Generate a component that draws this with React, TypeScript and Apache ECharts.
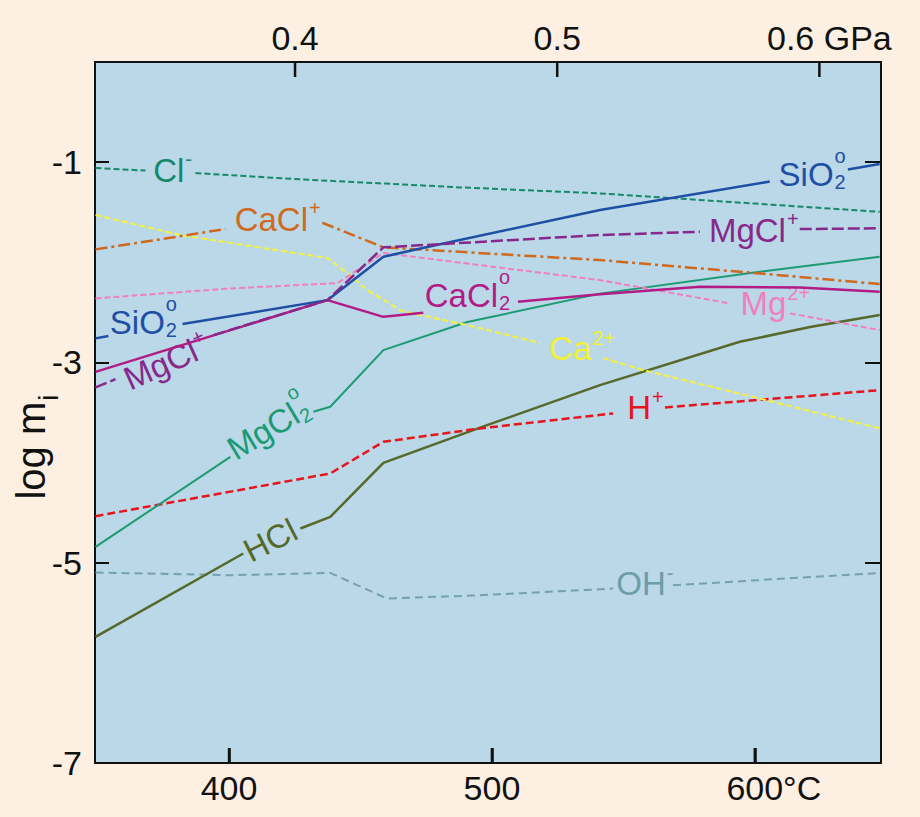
import React, { useEffect, useRef } from 'react';
import * as echarts from 'echarts';

const FONT = '"Liberation Sans", Arial, Helvetica, sans-serif';

type Pt = [number, number | null];

// axis ticks
const tempTicks = [400, 500, 600];
const pressureTicks = [0.4, 0.5, 0.6];
const logTicks = [-7, -5, -3, -1];
const rightTicks = [-5, -3, -1];

// series values: [T (°C), log m]; null = gap left for the label
const clMinus: Pt[] = [[349.2, -1.059], [368.2, -1.084], [378, null], [387.2, -1.109], [427.1, -1.172], [487.9, -1.252], [541.1, -1.312], [600, -1.414], [647.5, -1.496]];
const caClPlus: Pt[] = [[349.2, -1.871], [374, -1.77], [398.6, -1.668], [417, null], [435.5, -1.605], [458.7, -1.851], [541.1, -1.978], [601.9, -2.111], [647.5, -2.218]];
const sio2: Pt[] = [[349.2, -2.76], [354.1, -2.737], [368, null], [382.3, -2.617], [437.4, -2.378], [458.7, -1.945], [475.4, -1.848], [541.1, -1.478], [605.7, -1.194], [620, null], [635.4, -1.074], [647.5, -1.019]];
const mgClPlus: Pt[] = [[349.2, -3.25], [356.8, -3.167], [375, null], [394.0, -2.727], [437.4, -2.378], [458.7, -1.851], [541.1, -1.728], [579.1, -1.695], [598, null], [617.1, -1.668], [647.5, -1.661]];
const caCl2: Pt[] = [[349.2, -3.094], [437.4, -2.378], [458.7, -2.545], [473.9, -2.505], [492, null], [509.9, -2.395], [541.1, -2.318], [579.1, -2.245], [617.1, -2.251], [647.5, -2.295]];
const mg2Plus: Pt[] = [[349.2, -2.361], [400.5, -2.261], [441.2, -2.208], [458.7, -1.908], [541.1, -2.178], [590.6, -2.411], [602, null], [613.4, -2.51], [647.5, -2.677]];
const ca2Plus: Pt[] = [[349.2, -1.528], [381.5, -1.728], [437.4, -1.958], [445.0, -2.108], [452.6, -2.278], [465.1, -2.478], [472.7, -2.527], [490.6, -2.627], [518.3, -2.807], [530, null], [542.3, -2.957], [557.5, -3.077], [599.3, -3.344], [647.5, -3.659]];
const mgCl2: Pt[] = [[349.2, -4.842], [400.5, -3.943], [416, null], [432.1, -3.493], [438.5, -3.443], [458.7, -2.877], [490.6, -2.597], [541.1, -2.313], [601.9, -2.095], [647.5, -1.945]];
const hPlus: Pt[] = [[349.2, -4.535], [438.5, -4.109], [458.7, -3.793], [495.5, -3.659], [546.1, -3.509], [556, null], [565.8, -3.449], [647.5, -3.277]];
const hCl: Pt[] = [[349.2, -5.741], [405.4, -4.908], [416, null], [427.1, -4.658], [438.5, -4.542], [458.7, -4.003], [495.5, -3.651], [541.1, -3.227], [594.3, -2.794], [621.0, -2.647], [647.5, -2.527]];
const ohMinus: Pt[] = [[349.2, -5.098], [400.5, -5.125], [438.5, -5.102], [460.1, -5.358], [495.5, -5.325], [546.1, -5.258], [557, null], [568.9, -5.225], [647.5, -5.102]];

// species labels: anchor (T, log m) is the label's centre
const LABELS = [
  { t: 378.5, v: -1.079, text: 'Cl', sup: '-', color: '#17896b', rot: 0 },
  { t: 418.5, v: -1.568, text: 'CaCl', sup: '+', color: '#cf6a20', rot: 0 },
  { t: 367.4, v: -2.597, text: 'SiO', sub: '2', sup: 'o', color: '#1f4fa5', rot: 0 },
  { t: 376.2, v: -2.997, text: 'MgCl', sup: '+', color: '#87288a', rot: 24 },
  { t: 414.9, v: -3.656, text: 'MgCl', sub: '2', sup: 'o', color: '#1c9a73', rot: 31 },
  { t: 415.7, v: -4.775, text: 'HCl', color: '#56692a', rot: 27 },
  { t: 490.7, v: -2.328, text: 'CaCl', sub: '2', sup: 'o', color: '#b31b85', rot: 0 },
  { t: 534.3, v: -2.857, text: 'Ca', sup: '2+', color: '#f2f033', rot: 0 },
  { t: 558.4, v: -3.447, text: 'H', sup: '+', color: '#e8141c', rot: 0 },
  { t: 558.2, v: -5.205, text: 'OH', sup: '-', color: '#6d9ca8', rot: 0 },
  { t: 607.8, v: -2.408, text: 'Mg', sup: '2+', color: '#f27ec0', rot: 0 },
  { t: 599.6, v: -1.678, text: 'MgCl', sup: '+', color: '#87288a', rot: 0 },
  { t: 621.8, v: -1.119, text: 'SiO', sub: '2', sup: 'o', color: '#1f4fa5', rot: 0 },
];

const SERIES = [
  { name: 'Cl-', data: clMinus, color: '#17896b', width: 2, type: [6, 3] as any },
  { name: 'OH-', data: ohMinus, color: '#74a1ad', width: 2, type: [8, 5] as any },
  { name: 'HCl', data: hCl, color: '#56692a', width: 2.5, type: 'solid' as any },
  { name: 'H+', data: hPlus, color: '#e8141c', width: 2.5, type: [8, 4] as any },
  { name: 'MgCl2', data: mgCl2, color: '#1c9a73', width: 2, type: 'solid' as any },
  { name: 'Ca2+', data: ca2Plus, color: '#f6f23a', width: 2, type: [6, 3] as any },
  { name: 'Mg2+', data: mg2Plus, color: '#f07fbe', width: 2, type: [6, 3] as any },
  { name: 'CaCl+', data: caClPlus, color: '#d0691e', width: 2.5, type: [12, 4, 3, 4] as any },
  { name: 'CaCl2', data: caCl2, color: '#b31b85', width: 2.5, type: 'solid' as any },
  { name: 'SiO2', data: sio2, color: '#1f4fa5', width: 2.5, type: 'solid' as any },
  { name: 'MgCl+', data: mgClPlus, color: '#87288a', width: 2.5, type: [12, 4] as any },
];

const BG = '#fdf0e2';
const PLOT_BG = '#bad8e8';
const INK = '#111111';
const TICK_FS = 34;
const LABEL_FS = 33;
const TICK_LEN_LOG = 0.15; // tick length in log-m units (about 15 px)

export default function App() {
  const ref = useRef<HTMLDivElement>(null);
  useEffect(() => {
    const el = ref.current as HTMLDivElement;
    document.body.style.background = BG;
    const chart = echarts.init(el, null, { renderer: 'svg' });
    const tickStyle = { color: INK, width: 2 };
    const labelBase = { color: INK, fontSize: TICK_FS, fontFamily: FONT };
    const noLine = { show: false, onZero: false };

    // tick marks for the top (pressure) and bottom (temperature) axes, drawn through their scales
    const topTickData: Pt[] = [];
    pressureTicks.forEach((v) => { topTickData.push([v, 0], [v, -TICK_LEN_LOG], [v, null]); });
    const bottomTickData: Pt[] = [];
    tempTicks.forEach((v) => { bottomTickData.push([v, -7], [v, -7 + TICK_LEN_LOG], [v, null]); });

    chart.setOption({
      animation: false,
      backgroundColor: BG,
      grid: {
        left: 95, right: 39, top: 62, bottom: 54,
        show: true, backgroundColor: PLOT_BG, borderColor: INK, borderWidth: 2,
      },
      xAxis: [
        {
          type: 'value', position: 'bottom', min: 349, max: 648,
          axisLine: noLine, splitLine: { show: false },
          axisTick: { inside: true, length: 15, lineStyle: { color: INK, width: 2.5 }, customValues: tempTicks },
          axisLabel: {
            ...labelBase, margin: 8, customValues: tempTicks,
            formatter: (v: number) => (v === 600 ? '{sp| }600°C' : String(v)),
            rich: { sp: { width: 38, fontSize: TICK_FS } },
          },
        },
        {
          type: 'value', position: 'top', min: 0.3237, max: 0.6235,
          axisLine: noLine, splitLine: { show: false },
          axisTick: { show: false },
          axisLabel: {
            ...labelBase, margin: 7, customValues: pressureTicks,
            formatter: (v: number) => (Math.abs(v - 0.6) < 1e-6 ? '{sp| }0.6 GPa' : v.toFixed(1)),
            rich: { sp: { width: 20, fontSize: TICK_FS } },
          },
        },
      ],
      yAxis: [
        {
          type: 'value', position: 'left', min: -7, max: 0,
          axisLine: noLine, splitLine: { show: false },
          axisTick: { inside: true, length: 14, lineStyle: tickStyle, customValues: logTicks },
          axisLabel: { ...labelBase, margin: 13, customValues: logTicks, formatter: (v: number) => String(v) },
        },
        {
          type: 'value', position: 'right', min: -7, max: 0,
          axisLine: noLine, splitLine: { show: false },
          axisTick: { inside: true, length: 16, lineStyle: tickStyle, customValues: rightTicks },
          axisLabel: { show: false },
        },
      ],
      series: [
        ...SERIES.map((s) => ({
          name: s.name,
          type: 'line',
          xAxisIndex: 0,
          yAxisIndex: 0,
          data: s.data,
          showSymbol: false,
          symbol: 'none',
          connectNulls: false,
          silent: true,
          lineStyle: { color: s.color, width: s.width, type: s.type },
          z: 3,
        })),
        {
          name: 'top-ticks', type: 'line', xAxisIndex: 1, yAxisIndex: 0, data: topTickData,
          showSymbol: false, symbol: 'none', connectNulls: false, silent: true,
          lineStyle: { color: INK, width: 2.5 }, z: 6,
        },
        {
          name: 'bottom-ticks', type: 'line', xAxisIndex: 0, yAxisIndex: 0, data: bottomTickData,
          showSymbol: false, symbol: 'none', connectNulls: false, silent: true,
          lineStyle: { color: INK, width: 2.5 }, z: 6,
        },
      ],
    });

    const canvas = document.createElement('canvas');
    const ctx = canvas.getContext('2d') as CanvasRenderingContext2D;
    const measure = (t: string, size: number) => {
      ctx.font = `${size}px ${FONT}`;
      return ctx.measureText(t).width;
    };

    const graphics: any[] = LABELS.map((l: any) => {
      const p = chart.convertToPixel({ xAxisIndex: 0, yAxisIndex: 0 }, [l.t, l.v]) as number[];
      const fs = LABEL_FS;
      const ss = Math.round(fs * 0.6);
      const wMain = measure(l.text, fs);
      const wScript = Math.max(l.sup ? measure(l.sup, ss) : 0, l.sub ? measure(l.sub, ss) : 0);
      const total = wMain + (wScript ? wScript + 1 : 0);
      const x0 = -total / 2;
      const children: any[] = [
        { type: 'text', x: x0, y: 0, style: { text: l.text, fontSize: fs, fontFamily: FONT, fill: l.color, align: 'left', verticalAlign: 'middle' } },
      ];
      const stacked = l.sup && l.sub;
      if (l.sup) {
        children.push({ type: 'text', x: x0 + wMain + 1, y: stacked ? -0.55 * fs : -0.32 * fs, style: { text: l.sup, fontSize: ss, fontFamily: FONT, fill: l.color, align: 'left', verticalAlign: 'middle' } });
      }
      if (l.sub) {
        children.push({ type: 'text', x: x0 + wMain + 1, y: 0.25 * fs, style: { text: l.sub, fontSize: ss, fontFamily: FONT, fill: l.color, align: 'left', verticalAlign: 'middle' } });
      }
      return { type: 'group', x: p[0], y: p[1], rotation: ((l.rot || 0) * Math.PI) / 180, z: 10, children };
    });

    // y-axis title: log m_i
    const tFs = 40;
    const sFs = 28;
    const wLog = measure('log m', tFs);
    const wI = measure('i', sFs);
    const tot = wLog + wI + 1;
    graphics.push({
      type: 'group', x: 31, y: 447, rotation: Math.PI / 2, z: 10,
      children: [
        { type: 'text', x: -tot / 2, y: 0, style: { text: 'log m', fontSize: tFs, fontFamily: FONT, fill: INK, align: 'left', verticalAlign: 'middle' } },
        { type: 'text', x: -tot / 2 + wLog + 1, y: 17, style: { text: 'i', fontSize: sFs, fontFamily: FONT, fill: INK, align: 'left', verticalAlign: 'middle' } },
      ],
    });

    chart.setOption({ graphic: graphics });

    return () => chart.dispose();
  }, []);
  return <div ref={ref} style={{ position: 'fixed', left: 0, top: 0, width: 920, height: 817 }} />;
}
